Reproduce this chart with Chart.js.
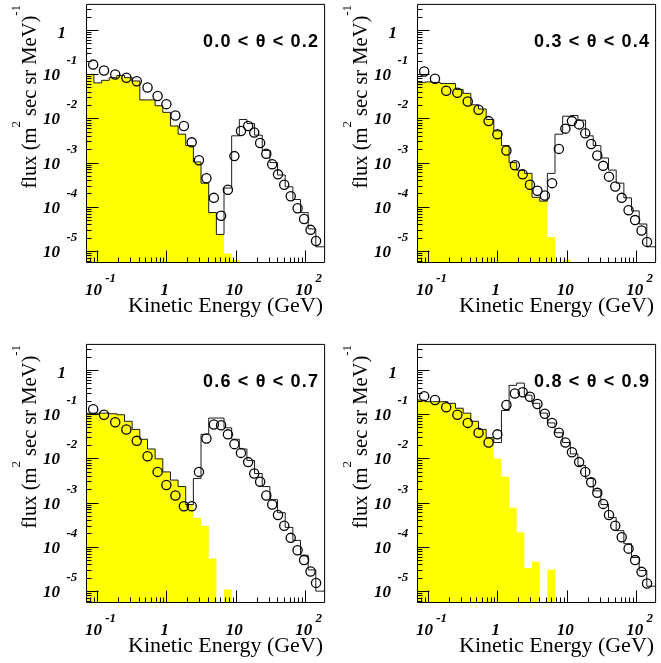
<!DOCTYPE html>
<html>
<head>
<meta charset="utf-8">
<script src="https://cdn.jsdelivr.net/npm/chart.js@4.4.0/dist/chart.umd.min.js"></script>
<style>
    html, body { margin: 0; padding: 0; background: #fff; }
    body { width: 661px; height: 663px; position: relative; overflow: hidden; }
    canvas { position: absolute; }
</style>
</head>
<body>
<canvas id="panel1" width="331" height="331" style="left:0px;top:-2px"></canvas>
<canvas id="panel2" width="331" height="331" style="left:331px;top:-2px"></canvas>
<canvas id="panel3" width="331" height="331" style="left:0px;top:338px"></canvas>
<canvas id="panel4" width="331" height="331" style="left:331px;top:338px"></canvas>
<script>
// kinetic energy of the data points (GeV), same for every panel
const energy = [0.088, 0.126, 0.183, 0.265, 0.374, 0.535, 0.747, 1.0, 1.35, 1.79, 2.32, 2.95, 3.78, 4.84, 6.15,
    7.71, 9.57, 11.9, 15.1, 18.5, 22.5, 27.6, 33.6, 40.7, 50.1, 62.1, 78.0, 96.8, 120, 144];

// histogram bin edges (GeV)
const binEdges = [0.065, 0.0902, 0.1164, 0.150, 0.193, 0.249, 0.321, 0.414, 0.534, 0.689, 0.888, 1.145, 1.476,
    1.90, 2.45, 3.16, 4.08, 5.26, 6.78, 8.74, 11.27, 14.5, 18.7, 24.1, 31.1, 40.1, 51.7, 66.7, 86.0, 110.9, 142.9, 250];

// 0.0 < theta < 0.2
const data1 = [0.165, 0.121, 0.0988, 0.0834, 0.0691, 0.0500, 0.0321, 0.0210, 0.01158, 0.00672, 0.00287, 0.001125,
    4.41e-4, 1.59e-4, 6.23e-5, 2.43e-4, 1.40e-3, 5.20e-3, 6.72e-3, 4.78e-3, 2.77e-3, 1.58e-3, 9.17e-4, 5.41e-4,
    3.14e-4, 1.73e-4, 9.22e-5, 5.26e-5, 3.00e-5, 1.68e-5];
const total1 = [0.0988, 0.0635, 0.0727, 0.0834, 0.0939, 0.0834, 0.0703, 0.0262, 0.0262, 0.0193, 0.0137, 0.00672,
    0.00439, 0.00242, 0.00103, 3.42e-4, 7.38e-5, 2.36e-5, 2.65e-4, 4.03e-3, 9.44e-3, 7.69e-3, 4.17e-3, 1.87e-3,
    9.98e-4, 5.23e-4, 2.83e-4, 1.46e-4, 7.38e-5, 3.15e-5, 1.24e-5];
const second1 = [0.0988, 0.0635, 0.0727, 0.0834, 0.0939, 0.0834, 0.0703, 0.0262, 0.0262, 0.0193, 0.0137, 0.00672,
    0.00439, 0.00242, 0.00103, 3.42e-4, 7.38e-5, 2.36e-5, 8.8e-6, 6.3e-6, 0, 0, 0, 0, 0, 0, 0, 0, 0, 0, 0];

// 0.3 < theta < 0.4
const data2 = [0.1151, 0.0792, 0.0422, 0.0381, 0.0241, 0.0157, 0.00867, 0.00439, 0.00187, 8.71e-4, 5.41e-4,
    3.14e-4, 2.31e-4, 1.79e-4, 3.42e-4, 2.04e-3, 5.86e-3, 8.67e-3, 7.31e-3, 4.62e-3, 2.63e-3, 1.45e-3, 8.42e-4,
    4.80e-4, 2.88e-4, 1.59e-4, 8.32e-5, 4.99e-5, 2.90e-5, 1.60e-5];
const total2 = [0.0646, 0.0668, 0.0646, 0.0614, 0.0614, 0.0452, 0.0368, 0.0203, 0.0163, 0.00944, 0.0052, 0.00242,
    9.98e-4, 6.75e-4, 5.69e-4, 1.64e-4, 1.34e-4, 5.69e-4, 4.39e-3, 0.0112, 0.0116, 9.12e-3, 4.03e-3, 2.42e-3,
    1.27e-3, 6.75e-4, 3.42e-4, 1.59e-4, 8.04e-5, 4.07e-5, 1.24e-5];
const second2 = [0.0646, 0.0668, 0.0646, 0.0614, 0.0614, 0.0452, 0.0368, 0.0203, 0.0163, 0.00944, 0.0052, 0.00242,
    9.98e-4, 6.75e-4, 5.69e-4, 1.64e-4, 1.34e-4, 2.06e-5, 0, 6.3e-6, 0, 0, 0, 0, 0, 0, 0, 0, 0, 0, 0];

// 0.6 < theta < 0.7
const data3 = [0.1298, 0.0971, 0.0657, 0.0452, 0.0249, 0.01119, 0.00494, 0.0025, 0.00145, 8.28e-4, 8.28e-4,
    4.94e-3, 0.0281, 0.0583, 0.0564, 0.035, 0.021, 0.0133, 0.00824, 0.00454, 0.00297, 0.00145, 9.02e-4, 5.23e-4,
    2.98e-4, 1.59e-4, 8.32e-5, 4.99e-5, 2.75e-5, 1.52e-5];
const total3 = [0.1057, 0.1057, 0.1057, 0.1022, 0.0971, 0.0691, 0.0452, 0.0271, 0.0163, 0.00977, 0.00494, 0.00323,
    0.0023, 9.02e-4, 3.52e-3, 0.035, 0.0819, 0.0819, 0.0492, 0.0271, 0.0163, 8.97e-3, 4.54e-3, 2.30e-3, 1.16e-3,
    5.89e-4, 2.74e-4, 1.39e-4, 6.45e-5, 2.99e-5, 9.9e-6];
const second3 = [0.1057, 0.1057, 0.1057, 0.1022, 0.0971, 0.0691, 0.0452, 0.0271, 0.0163, 0.00977, 0.00494, 0.00323,
    0.0023, 9.02e-4, 4.56e-4, 2.98e-4, 5.44e-5, 0, 1.08e-5, 0, 0, 0, 0, 0, 0, 0, 0, 0, 0, 0, 0];

// 0.8 < theta < 0.9
const data4 = [0.2564, 0.2089, 0.1437, 0.0971, 0.0635, 0.0381, 0.0229, 0.035, 0.1618, 0.2938, 0.3144, 0.2477,
    0.1703, 0.1023, 0.0635, 0.0381, 0.0229, 0.01373, 0.00824, 0.00494, 0.00287, 0.00166, 9.33e-4, 5.23e-4,
    2.98e-4, 1.64e-4, 9.06e-5, 4.99e-5, 2.70e-5, 1.47e-5];
const total4 = [0.2089, 0.192, 0.192, 0.192, 0.1763, 0.1365, 0.1057, 0.0691, 0.0452, 0.0295, 0.0229, 0.1212,
    0.4495, 0.506, 0.2697, 0.1763, 0.1057, 0.0635, 0.0381, 0.0229, 0.0126, 0.00695, 0.00352, 0.00184, 9.02e-4,
    4.56e-4, 2.31e-4, 1.17e-4, 5.72e-5, 2.90e-5, 1.28e-5];
const second4 = [0.2089, 0.192, 0.192, 0.192, 0.1763, 0.1365, 0.1057, 0.0691, 0.0452, 0.0295, 0.00977, 3.83e-3,
    7.6e-4, 2.12e-4, 3.29e-5, 4.59e-5, 0, 3.0e-5, 0, 0, 0, 0, 0, 0, 0, 0, 0, 0, 0, 0, 0];

const panelLabels = ["0.0 < θ < 0.2", "0.3 < θ < 0.4", "0.6 < θ < 0.7", "0.8 < θ < 0.9"];

const xMajor = [0.1, 1, 10, 100];
const xMajorLabels = [["10", "-1"], ["1", ""], ["10", ""], ["10", "2"]];
const yMajor = [1, 0.1, 0.01, 1e-3, 1e-4, 1e-5];
const yMajorLabels = [["1", ""], ["10", "-1"], ["10", "-2"], ["10", "-3"], ["10", "-4"], ["10", "-5"]];

const xRange = [0.0705, 194.5];
const yRange = [5.33e-6, 3.9];
const EMPTY = 1e-9; // empty bins, far below the axis

const labelFont = "italic bold 17px 'Liberation Serif'";
const expFont = "italic bold 13px 'Liberation Serif'";
const titleFont = "22px 'Liberation Serif'";
const yTitleFont = "20.5px 'Liberation Serif'";
const supFont = "13px 'Liberation Serif'";
const panelFont = "bold 18px 'Liberation Sans'";

const histogramPoints = (values) => {
    const points = values.map((v, i) => ({ x: binEdges[i], y: v > 0 ? v : EMPTY }));
    points.push({ x: binEdges[values.length], y: points[points.length - 1].y });
    return points;
};

const minorValues = (lo, hi) => {
    const out = [];
    for (let e = Math.floor(Math.log10(lo)); e <= Math.ceil(Math.log10(hi)); e++) {
        for (let m = 2; m <= 9; m++) {
            const v = m * Math.pow(10, e);
            if (v > lo && v < hi) out.push(v);
        }
    }
    return out;
};

const drawParts = (ctx, parts, x, y) => {
    let cx = x;
    parts.forEach(([text, font, dy]) => {
        ctx.font = font;
        ctx.fillText(text, cx, y + dy);
        cx += ctx.measureText(text).width;
    });
};
const partsWidth = (ctx, parts) =>
    parts.reduce((w, [text, font]) => {
        ctx.font = font;
        return w + ctx.measureText(text).width;
    }, 0);

const rootAxes = {
    id: "rootAxes",
    afterDatasetsDraw(chart) {
        const { ctx, chartArea: a, scales } = chart;
        ctx.save();
        ctx.strokeStyle = "#000";
        ctx.lineWidth = 1;
        ctx.beginPath();
        ctx.rect(a.left, a.top + 0.5, a.right - a.left - 0.5, a.bottom - a.top - 1);
        const xTick = (v, len) => {
            const px = Math.round(scales.x.getPixelForValue(v)) + 0.5;
            ctx.moveTo(px, a.bottom - 0.5);
            ctx.lineTo(px, a.bottom - 0.5 - len);
        };
        const yTick = (v, len) => {
            const py = Math.round(scales.y.getPixelForValue(v)) + 0.5;
            ctx.moveTo(a.left, py);
            ctx.lineTo(a.left + len, py);
        };
        xMajor.forEach((v) => xTick(v, 12));
        minorValues(xRange[0], xRange[1]).forEach((v) => xTick(v, 5));
        yMajor.forEach((v) => yTick(v, 12));
        minorValues(yRange[0], yRange[1]).forEach((v) => yTick(v, 5));
        ctx.stroke();
        ctx.restore();
    },
    afterDraw(chart, args, opts) {
        const { ctx, chartArea: a, scales } = chart;
        ctx.save();
        ctx.fillStyle = "#000";
        ctx.textBaseline = "alphabetic";
        ctx.textAlign = "left";

        // x tick labels
        xMajor.forEach((v, i) => {
            const [base, exp] = xMajorLabels[i];
            const px = scales.x.getPixelForValue(v);
            const y = a.bottom + 32;
            if (exp) {
                const parts = [[base, labelFont, 0], [" ", expFont, 0], [exp, expFont, -13]];
                const w = partsWidth(ctx, parts);
                drawParts(ctx, parts, px + 3.5 - w / 2, y);
            } else {
                ctx.font = labelFont;
                const w = ctx.measureText(base).width;
                ctx.fillText(base, px - 1.5 - w / 2, y);
            }
        });

        // y tick labels
        yMajor.forEach((v, i) => {
            const [base, exp] = yMajorLabels[i];
            const py = scales.y.getPixelForValue(v);
            ctx.font = labelFont;
            if (exp) {
                const w = ctx.measureText(base).width;
                ctx.fillText(base, a.left - 26.5 - w, py + 6);
                ctx.font = expFont;
                ctx.fillText(exp, a.left - 20, py - 10);
            } else {
                const w = ctx.measureText(base).width;
                ctx.fillText(base, a.left - 20.5 - w, py + 7.5);
            }
        });

        // x title
        ctx.font = titleFont;
        const xt = "Kinetic Energy (GeV)";
        ctx.fillText(xt, a.right - 2 - ctx.measureText(xt).width, a.bottom + 49);

        // y title, rotated, aligned to the top of the axis
        const yParts = [["flux (m", yTitleFont, 0], ["2", supFont, -16], [" sec sr MeV)", yTitleFont, 0], ["-1", supFont, -16]];
        const yw = partsWidth(ctx, yParts);
        ctx.save();
        ctx.translate(a.left - 51, a.top + 1);
        ctx.rotate(-Math.PI / 2);
        drawParts(ctx, yParts, -yw, 0);
        ctx.restore();

        // panel label
        ctx.font = panelFont;
        const text = opts.label;
        const natural = ctx.measureText(text).width;
        const extra = (115 - natural) / (text.length - 1);
        let cx = a.left + 116.5;
        for (const ch of text) {
            ctx.fillText(ch, cx, a.top + 42.7);
            cx += ctx.measureText(ch).width + extra;
        }
        ctx.restore();
    },
};

const makePanel = (id, data, total, second, label) => {
    const canvas = document.getElementById(id);
    return new Chart(canvas.getContext("2d"), {
        type: "line",
        data: {
            datasets: [
                {
                    label: "secondary",
                    data: histogramPoints(second),
                    stepped: "before",
                    borderWidth: 0,
                    borderColor: "rgba(0,0,0,0)",
                    backgroundColor: "#ffff00",
                    fill: "start",
                    pointRadius: 0,
                    order: 3,
                },
                {
                    label: "total",
                    data: histogramPoints(total),
                    stepped: "before",
                    borderWidth: 1,
                    borderColor: "#1a1a1a",
                    fill: false,
                    pointRadius: 0,
                    order: 2,
                },
                {
                    label: "data",
                    data: energy.map((e, i) => ({ x: e, y: data[i] })),
                    showLine: false,
                    pointStyle: "circle",
                    pointRadius: 4.6,
                    pointBorderWidth: 1.3,
                    pointBorderColor: "#000",
                    pointBackgroundColor: "rgba(0,0,0,0)",
                    order: 1,
                },
            ],
        },
        options: {
            responsive: false,
            animation: false,
            devicePixelRatio: 1,
            events: [],
            layout: { padding: { left: 86.5, right: 1, top: 1, bottom: 66 } },
            plugins: {
                legend: { display: false },
                tooltip: { enabled: false },
                rootAxes: { label },
            },
            scales: {
                x: { type: "logarithmic", min: xRange[0], max: xRange[1], display: false },
                y: { type: "logarithmic", min: yRange[0], max: yRange[1], display: false },
            },
        },
        plugins: [rootAxes],
    });
};

makePanel("panel1", data1, total1, second1, panelLabels[0]);
makePanel("panel2", data2, total2, second2, panelLabels[1]);
makePanel("panel3", data3, total3, second3, panelLabels[2]);
makePanel("panel4", data4, total4, second4, panelLabels[3]);
</script>
</body>
</html>
